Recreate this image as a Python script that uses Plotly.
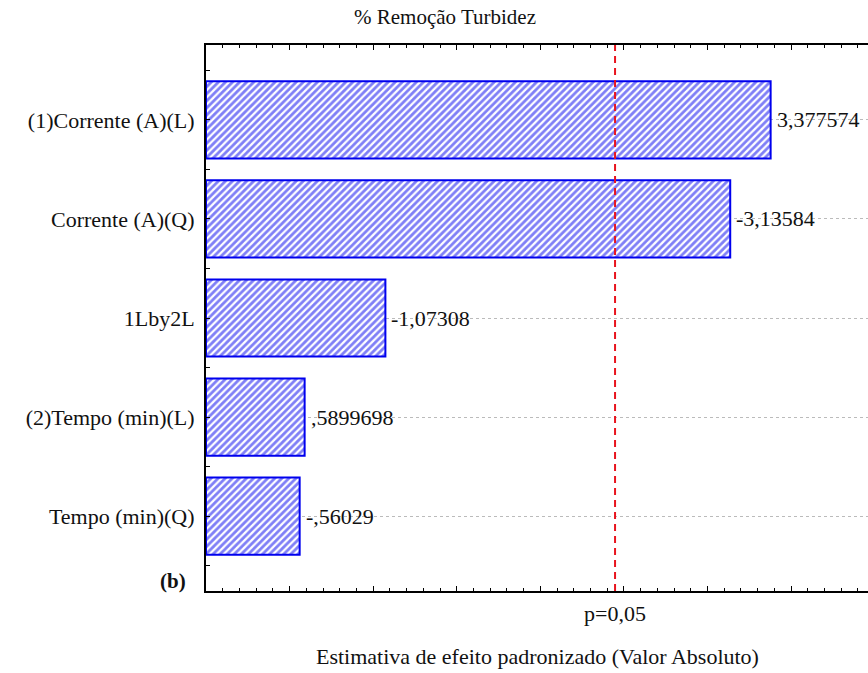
import plotly.graph_objects as go

# Pareto chart of standardized effects for % Remoção Turbidez
effects = ["(1)Corrente (A)(L)", "Corrente (A)(Q)", "1Lby2L",
           "(2)Tempo (min)(L)", "Tempo (min)(Q)"]
effect_values = [3.377574, -3.13584, -1.07308, 0.5899698, -0.56029]
p_crit = 2.446912          # t critical value, p = 0,05
x_max = 3.96

FONT = "Liberation Serif"
BLUE = "#0000ee"
FS = 22


def fmt(v):
    """Statistica-style number label: comma decimal, no leading zero."""
    s = "%.7g" % v
    s = s.replace("0.", ".", 1) if s.lstrip("-").startswith("0.") else s
    return s.replace(".", ",")


pos = list(range(len(effects)))
mags = [abs(v) for v in effect_values]

fig = go.Figure()
fig.add_trace(go.Bar(
    x=mags, y=pos, orientation="h", width=0.78,
    marker=dict(
        color="white",
        line=dict(color=BLUE, width=2),
        pattern=dict(shape="/", fgcolor=BLUE, bgcolor="white",
                     size=5, solidity=0.55, fillmode="overlay"),
    ),
    hoverinfo="skip", showlegend=False,
))

# value labels beside each bar
for p, m, v in zip(pos, mags, effect_values):
    fig.add_annotation(x=m, y=p, xref="x", yref="y", text=fmt(v),
                       showarrow=False, xanchor="left", yanchor="middle",
                       xshift=4, font=dict(family=FONT, size=FS, color="#111"))

# critical value line
fig.add_shape(type="line", x0=p_crit, x1=p_crit, y0=0, y1=1,
              xref="x", yref="paper",
              line=dict(color="#e8141e", width=2, dash="7px,5px"))
fig.add_annotation(x=p_crit, y=0, xref="x", yref="paper", text="p=0,05",
                   showarrow=False, yanchor="top", yshift=-8,
                   font=dict(family=FONT, size=FS, color="#111"))

fig.add_annotation(x=0.5, y=-0.12, xref="paper", yref="paper",
                   text="Estimativa de efeito padronizado (Valor Absoluto)",
                   showarrow=False, yanchor="middle",
                   font=dict(family=FONT, size=FS, color="#111"))
fig.add_annotation(x=-0.072, y=0.018, xref="paper", yref="paper",
                   text="<b>(b)</b>", showarrow=False, yanchor="middle",
                   font=dict(family=FONT, size=FS - 1, color="#111"))
fig.add_annotation(x=0.361, y=1.051, xref="paper", yref="paper",
                   text="% Remoção Turbidez", showarrow=False,
                   yanchor="middle",
                   font=dict(family=FONT, size=FS - 1, color="#111"))

fig.update_layout(
    width=868, height=673,
    margin=dict(l=206, r=0, t=45, b=82),
    paper_bgcolor="white", plot_bgcolor="white",
    xaxis=dict(range=[0, x_max], showgrid=False, zeroline=False,
               showline=True, linecolor="black", linewidth=2,
               mirror="ticks", ticks="inside", ticklen=5, dtick=0.5,
               tickcolor="black", showticklabels=False,
               minor=dict(dtick=0.1, ticks="inside", ticklen=3,
                          tickcolor="black")),
    yaxis=dict(range=[4.757, -0.757], tickmode="array", tickvals=pos,
               ticktext=effects, showgrid=True, gridcolor="#bbbbbb",
               griddash="dot", gridwidth=1, zeroline=False,
               showline=True, linecolor="black", linewidth=2,
               ticks="inside", ticklen=4, tickcolor="black",
               ticklabelstandoff=5,
               tickfont=dict(family=FONT, size=FS, color="#111"),
               minor=dict(tickvals=[-0.5, 0.5, 1.5, 2.5, 3.5, 4.5],
                          ticks="inside", ticklen=4, tickcolor="black",
                          showgrid=False)),
)

fig.write_html("out.html")
